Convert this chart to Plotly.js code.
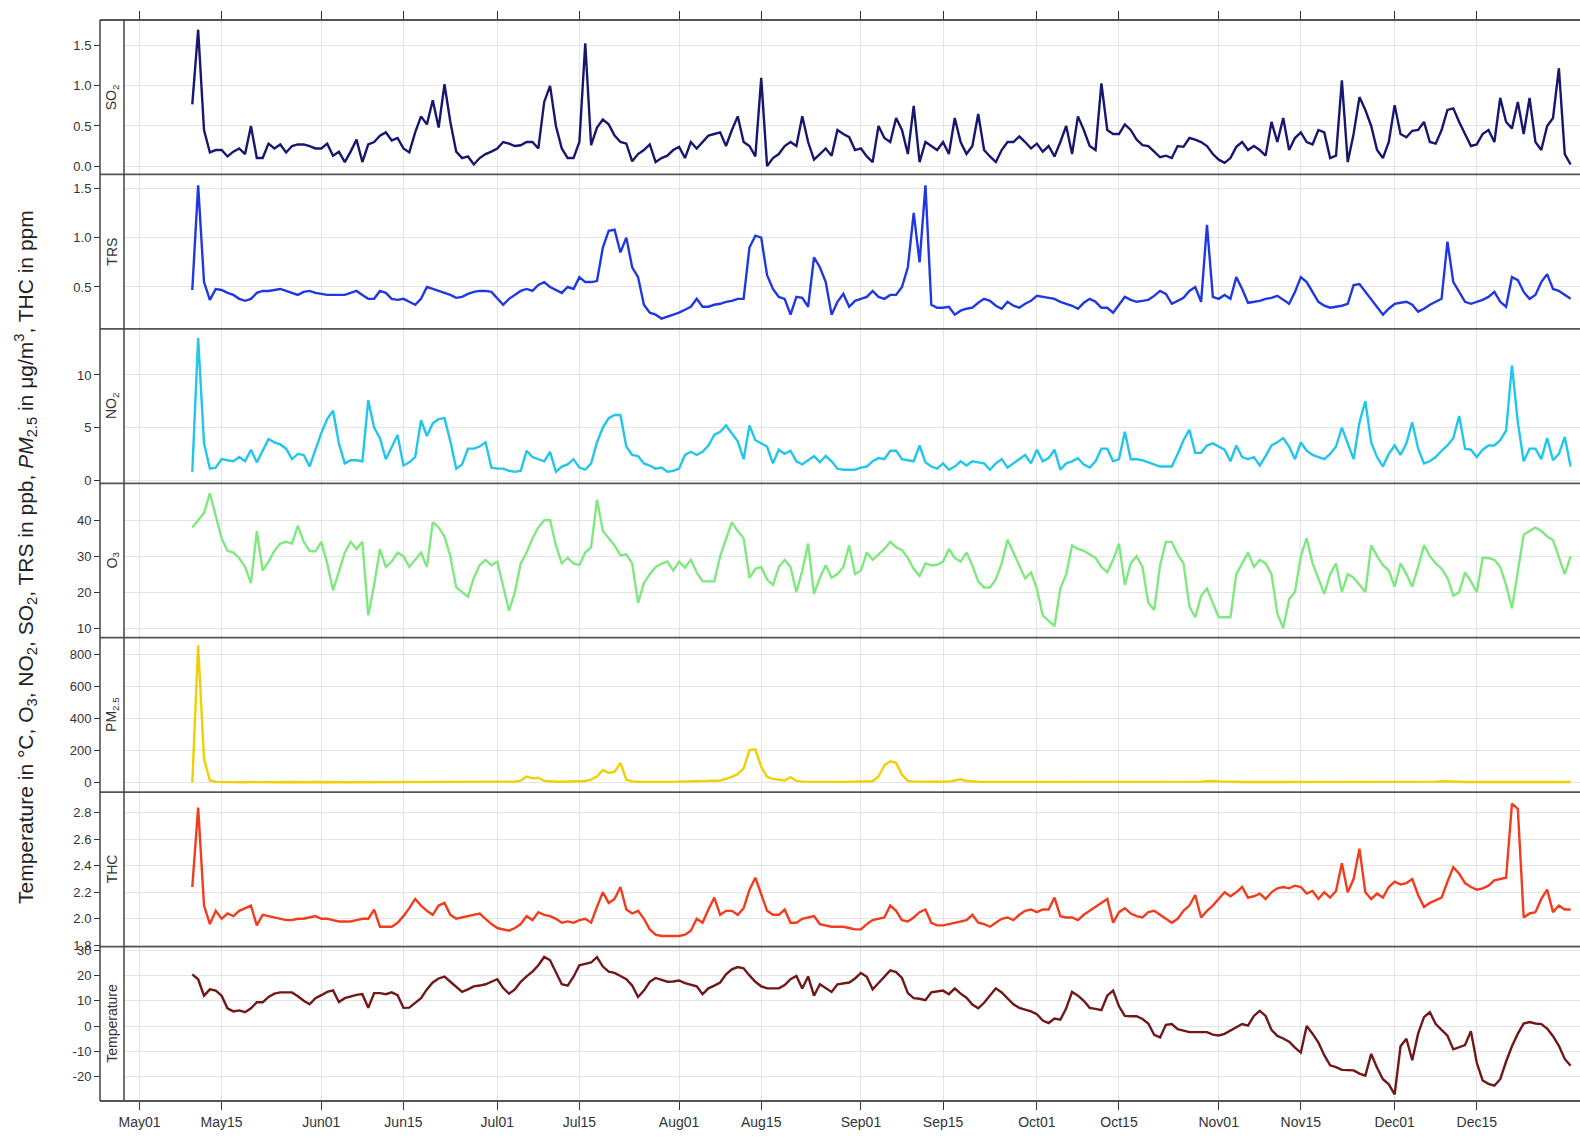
<!DOCTYPE html>
<html><head><meta charset="utf-8">
<script src="https://cdn.plot.ly/plotly-3.0.1.min.js"></script>
<style>html,body{margin:0;padding:0;background:#fff}</style>
</head><body>
<div id="chart" style="width:1580px;height:1138px"></div>
<script>
// daily means, first value is 10 May
const startDate = [2015, 4, 10];

const so2 = [0.77,1.7,0.45,0.17,0.2,0.2,0.12,0.18,0.22,0.15,
0.5,0.1,0.1,0.28,0.22,0.27,0.17,0.25,0.27,0.27,
0.25,0.22,0.22,0.28,0.13,0.18,0.05,0.18,0.33,0.05,
0.27,0.3,0.38,0.42,0.32,0.35,0.22,0.17,0.42,0.62,
0.52,0.82,0.48,1.02,0.55,0.18,0.1,0.12,0.02,0.1,
0.15,0.18,0.22,0.3,0.28,0.25,0.26,0.3,0.3,0.22,
0.8,1.0,0.5,0.22,0.1,0.1,0.3,1.53,0.26,0.48,
0.58,0.52,0.38,0.3,0.28,0.06,0.15,0.2,0.27,0.05,
0.1,0.13,0.2,0.24,0.1,0.3,0.22,0.3,0.38,0.4,
0.42,0.25,0.45,0.62,0.3,0.25,0.12,1.1,0.0,0.1,
0.15,0.25,0.3,0.25,0.62,0.3,0.08,0.15,0.22,0.13,
0.45,0.4,0.36,0.2,0.22,0.12,0.05,0.5,0.35,0.3,
0.6,0.45,0.15,0.75,0.05,0.3,0.25,0.2,0.3,0.15,
0.6,0.3,0.15,0.25,0.65,0.2,0.12,0.05,0.2,0.3,
0.3,0.37,0.3,0.22,0.28,0.18,0.25,0.12,0.3,0.5,
0.15,0.62,0.45,0.25,0.2,1.03,0.45,0.4,0.4,0.52,
0.45,0.33,0.26,0.25,0.18,0.11,0.13,0.1,0.25,0.24,
0.35,0.33,0.3,0.25,0.15,0.08,0.04,0.1,0.24,0.3,
0.2,0.25,0.2,0.13,0.55,0.3,0.6,0.2,0.35,0.42,
0.3,0.27,0.45,0.42,0.1,0.13,1.07,0.05,0.4,0.86,
0.7,0.5,0.2,0.1,0.3,0.76,0.4,0.36,0.44,0.45,
0.55,0.3,0.28,0.45,0.7,0.72,0.55,0.4,0.25,0.27,
0.4,0.45,0.3,0.85,0.55,0.47,0.8,0.4,0.85,0.3,
0.2,0.5,0.6,1.22,0.15,0.02];

const trs = [0.47,1.53,0.55,0.37,0.48,0.47,0.44,0.42,0.38,0.36,
0.38,0.44,0.46,0.46,0.47,0.48,0.46,0.44,0.42,0.45,
0.46,0.44,0.43,0.42,0.42,0.42,0.42,0.44,0.46,0.42,
0.38,0.38,0.46,0.44,0.38,0.37,0.38,0.35,0.32,0.38,
0.5,0.48,0.46,0.44,0.42,0.39,0.4,0.43,0.45,0.46,
0.46,0.45,0.38,0.32,0.38,0.42,0.46,0.48,0.46,0.52,
0.55,0.5,0.47,0.44,0.5,0.48,0.6,0.55,0.55,0.56,
0.9,1.07,1.08,0.85,1.0,0.7,0.6,0.32,0.24,0.22,
0.18,0.2,0.22,0.24,0.27,0.3,0.38,0.3,0.3,0.32,
0.33,0.35,0.36,0.38,0.38,0.9,1.02,1.0,0.62,0.48,
0.4,0.38,0.22,0.4,0.39,0.3,0.8,0.7,0.55,0.22,
0.35,0.43,0.3,0.36,0.38,0.4,0.46,0.4,0.38,0.42,
0.42,0.5,0.7,1.25,0.75,1.53,0.32,0.29,0.29,0.3,
0.22,0.26,0.28,0.29,0.34,0.38,0.36,0.31,0.28,0.35,
0.31,0.29,0.33,0.36,0.41,0.4,0.39,0.38,0.35,0.33,
0.31,0.28,0.34,0.38,0.35,0.29,0.29,0.24,0.32,0.4,
0.37,0.35,0.36,0.37,0.41,0.46,0.43,0.33,0.36,0.39,
0.46,0.5,0.35,1.13,0.4,0.38,0.42,0.38,0.6,0.48,
0.34,0.35,0.36,0.38,0.39,0.41,0.37,0.33,0.45,0.6,
0.55,0.45,0.35,0.31,0.29,0.3,0.31,0.33,0.52,0.53,
0.45,0.38,0.3,0.22,0.28,0.33,0.34,0.35,0.32,0.25,
0.28,0.32,0.35,0.38,0.96,0.55,0.45,0.35,0.33,0.35,
0.37,0.4,0.45,0.35,0.3,0.6,0.57,0.45,0.38,0.42,
0.55,0.63,0.48,0.46,0.42,0.38];

const no2 = [0.8,13.5,3.5,1.1,1.2,2.0,1.9,1.8,2.2,1.8,
2.9,1.7,2.8,3.9,3.6,3.4,3.0,2.0,2.5,2.4,
1.3,3.0,4.5,5.8,6.6,3.5,1.6,1.9,1.9,1.8,
7.6,5.0,4.0,2.0,3.2,4.3,1.4,1.7,2.2,5.7,
4.2,5.4,5.8,5.9,3.7,1.1,1.5,3.0,3.0,3.2,
3.6,1.2,1.1,1.1,0.9,0.8,0.9,2.8,2.2,2.0,
1.8,2.7,0.8,1.3,1.5,2.0,1.2,1.0,1.6,3.6,
5.0,5.9,6.2,6.2,3.2,2.4,2.3,1.6,1.4,1.1,
1.2,0.8,0.9,1.1,2.4,2.7,2.4,2.7,3.3,4.3,
4.6,5.2,4.5,3.7,2.0,5.2,3.8,3.5,3.2,1.6,
2.9,2.5,2.8,1.8,1.5,1.9,2.3,1.7,2.3,1.8,
1.1,1.0,1.0,1.0,1.2,1.3,1.8,2.1,2.0,2.8,
2.8,2.0,1.9,1.8,3.3,1.7,1.3,1.1,1.6,1.0,
1.3,1.8,1.4,1.8,1.7,1.6,1.0,1.6,2.0,1.2,
1.6,2.0,2.4,1.6,2.9,1.8,2.1,2.9,1.0,1.6,
1.8,2.1,1.5,1.2,1.8,3.0,3.0,1.8,2.0,4.6,
2.0,2.0,1.9,1.7,1.5,1.3,1.3,1.3,2.5,3.8,
4.8,2.6,2.6,3.3,3.5,3.2,2.9,1.8,3.3,2.2,
2.0,2.2,1.4,2.3,3.3,3.6,4.0,3.2,2.0,3.6,
2.8,2.4,2.2,2.0,2.5,3.2,5.0,3.5,2.0,5.5,
7.5,3.6,2.2,1.3,2.5,3.3,2.4,3.5,5.5,3.0,
1.6,1.8,2.2,2.8,3.3,4.0,6.1,3.0,2.9,2.2,
2.9,3.3,3.3,3.8,4.7,10.9,5.5,1.8,3.0,3.0,
2.0,4.0,1.9,2.5,4.1,1.3];

const o3 = [38,40,42,47.5,41,35,31.5,31,29.5,27,
22.5,37,26,28.5,31.5,33.5,34,33.5,38.5,34,
31.5,31.3,34,28,20.5,26,31,34,32,34,
13.5,22,32,27,28.5,31,30,27,29,31,
27,39.5,38,35.5,30,21.3,20,18.7,24,27.5,
29,27.5,28.5,22,14.8,20,28,31,35,38,
40,40,33,28,29.5,28,27.5,31,32.5,45.7,
37,35,33,30.2,30.5,28,17,22.5,25,27,
27.9,28.5,26,28.5,26.8,29,25.5,23,23,23,
30,35,39.5,37,35,24,26.5,27,23.5,22,
27,29,27,20,26,33.5,19.5,24,27.5,24,
25,27,33,25,26,31,29,30.5,32,34,
32.5,31.7,29.5,26.5,24.5,28,27.5,27.6,28.5,32,
29.5,28.5,31,27.4,23,21.3,21.3,23.5,28,34.6,
31,27.4,23.8,25.5,21,13.5,12,10.5,21,25,
33,32,31.5,30.5,29.5,27,25.5,29,33.5,22,
28,30,27,17,15,27.5,34,34,30.5,28,
16,13,19,21,17,13,13,13,25,28,
31,27,29,28,25,14,10,18,20,30,
35,28,23.5,19.5,25,28,20,25,24,22,
20,33,30,27.5,26,21.5,28,25,21.5,27,
33,30,28,26.5,24,19,20,25.5,23,20,
29.5,29.5,29,27,22,15.5,26,36,37,38,
37,35.5,34.5,30,25,30];

const pm25 = [2,860,150,15,6,5,5,4,5,4,
5,4,4,5,4,4,5,4,4,4,
4,5,4,4,4,5,4,4,4,4,
5,4,4,4,4,5,4,4,4,4,
5,5,4,4,4,4,5,4,4,5,
4,5,5,6,6,8,14,40,28,32,
12,8,7,7,8,8,10,12,20,40,
80,62,70,125,20,9,7,6,6,6,
6,6,6,7,7,7,8,8,9,10,
15,25,37,55,90,205,210,100,37,25,
20,15,35,12,8,7,6,6,6,6,
6,6,6,7,7,8,10,40,110,135,
125,50,12,8,7,6,6,6,7,8,
15,22,12,8,7,6,6,5,5,5,
5,5,5,6,5,5,5,5,6,5,
5,5,6,5,5,6,5,5,5,6,
5,5,5,6,6,5,5,6,6,7,
7,6,8,10,12,9,7,6,6,5,
5,5,6,5,5,5,6,5,5,5,
5,5,5,5,5,5,5,5,5,5,
5,5,4,4,5,5,5,5,5,5,
5,6,8,10,8,6,5,5,5,5,
5,5,5,5,5,5,5,5,5,5,
5,5,5,5,5,5];

const thc = [2.24,2.84,2.1,1.96,2.06,2.0,2.04,2.02,2.06,2.08,
2.1,1.95,2.03,2.02,2.01,2.0,1.99,1.99,2.0,2.0,
2.01,2.02,2.0,2.0,1.99,1.98,1.98,1.98,1.99,2.0,
2.0,2.07,1.94,1.94,1.94,1.97,2.02,2.08,2.15,2.1,
2.06,2.03,2.1,2.12,2.03,2.0,2.01,2.02,2.03,2.04,
2.0,1.96,1.93,1.92,1.91,1.93,1.96,2.02,1.99,2.05,
2.03,2.02,2.0,1.97,1.98,1.97,1.99,2.0,1.97,2.09,
2.2,2.12,2.15,2.24,2.07,2.04,2.06,2.0,1.92,1.88,
1.87,1.87,1.87,1.87,1.88,1.91,2.0,1.97,2.07,2.16,
2.03,2.06,2.06,2.03,2.08,2.22,2.31,2.18,2.06,2.03,
2.03,2.07,1.97,1.97,2.0,2.01,2.02,1.96,1.95,1.94,
1.94,1.94,1.93,1.92,1.92,1.96,1.99,2.0,2.01,2.1,
2.06,1.99,1.98,2.01,2.05,2.07,1.97,1.95,1.95,1.96,
1.97,1.98,1.99,2.03,1.97,1.96,1.94,1.97,2.0,2.01,
1.99,2.03,2.06,2.07,2.05,2.07,2.07,2.16,2.02,2.01,
2.01,1.99,2.03,2.06,2.09,2.12,2.15,1.97,2.05,2.08,
2.04,2.02,2.01,2.05,2.06,2.03,2.0,1.97,2.0,2.06,
2.1,2.18,2.01,2.06,2.1,2.15,2.2,2.17,2.2,2.24,
2.16,2.17,2.19,2.15,2.2,2.23,2.24,2.23,2.25,2.24,
2.19,2.21,2.15,2.2,2.16,2.21,2.42,2.2,2.3,2.53,
2.2,2.15,2.19,2.16,2.24,2.28,2.26,2.27,2.3,2.18,
2.09,2.12,2.14,2.16,2.28,2.39,2.34,2.27,2.24,2.22,
2.23,2.25,2.29,2.3,2.31,2.87,2.83,2.01,2.04,2.05,
2.15,2.22,2.05,2.1,2.07,2.07];

const temperature = [20.4,18.5,12,14.5,14,12,7,5.8,6.2,5.5,
7,9.4,9.4,11.5,12.8,13.3,13.3,13.3,11.8,10,
8.6,11,12.2,13.5,14.1,9.5,11,11.8,12.3,12.6,
7.2,13,13,12.6,13.3,12.2,7.2,7.3,9,11,
14.5,17.2,18.8,19.5,17.5,15.5,13.5,14.5,15.7,16,
16.5,17.5,18.5,15,12.8,14.5,17.5,19.6,21.5,24,
27.3,26,21,16.5,16,19.5,24,24.6,25.1,27.2,
23.5,21.5,21,19.8,18.5,16,11.5,14,17.5,19,
18.2,17.5,17.6,18,17,16.2,15.7,12.6,14.9,16,
17.2,20.4,22.4,23.3,22.8,20,17.5,15.7,14.9,14.9,
14.9,16.2,18.5,19.8,14.8,19.6,12,16.5,15,13.5,
16.5,17,17.2,18.8,21,19.5,14.5,17,19.6,22,
21.3,19,13,11,10.8,10.2,13.3,13.8,14,12.6,
14.9,12.8,11.2,8.5,7,9.2,12,14.9,13.3,11,
8.6,7.2,6.5,5.8,4.7,2.2,1.2,3,2.5,7,
13.5,12,10,7.2,6.8,6.3,12,14,7.8,4,
3.9,3.9,2.8,1.0,-3.5,-4.5,0.5,0.8,-1.2,-1.9,
-2.4,-2.4,-2.4,-2.4,-3.4,-3.7,-3.1,-1.8,-0.6,0.8,
0.2,4,6,4,-1.5,-3.9,-4.9,-6.2,-8.5,-10.5,
0,-3,-6.5,-11.5,-15.5,-16.2,-17.3,-17.3,-17.5,-18.8,
-19.6,-11,-16.5,-21,-23,-27,-8,-5,-13.5,-3,
3.5,5.5,0.8,-1.5,-3.8,-9.2,-8.5,-7.5,-2,-14.5,
-21.5,-22.8,-23.5,-21,-14,-8,-3,1.0,1.6,1.0,
0.8,-1.0,-4,-7.8,-13,-15.7];

const tickDates = ['2015-05-01','2015-05-15','2015-06-01','2015-06-15','2015-07-01','2015-07-15',
  '2015-08-01','2015-08-15','2015-09-01','2015-09-15','2015-10-01','2015-10-15',
  '2015-11-01','2015-11-15','2015-12-01','2015-12-15'];
const tickLabels = ['May01','May15','Jun01','Jun15','Jul01','Jul15','Aug01','Aug15',
  'Sep01','Sep15','Oct01','Oct15','Nov01','Nov15','Dec01','Dec15'];

const panelNames = ['SO<sub>2</sub>','TRS','NO<sub>2</sub>','O<sub>3</sub>','PM<sub>2.5</sub>','THC','Temperature'];
const panelTicks = [[0,0.5,1,1.5],[0.5,1,1.5],[0,5,10],[10,20,30,40],[0,200,400,600,800],
  [1.8,2.0,2.2,2.4,2.6,2.8],[-20,-10,0,10,20,30]];
const panelTickText = [['0.0','0.5','1.0','1.5'],['0.5','1.0','1.5'],['0','5','10'],['10','20','30','40'],
  ['0','200','400','600','800'],['1.8','2.0','2.2','2.4','2.6','2.8'],['-20','-10','0','10','20','30']];

const yTitle = 'Temperature in °C, O<sub>3</sub>, NO<sub>2</sub>, SO<sub>2</sub>, TRS in ppb, <i>PM</i><sub>2.5</sub> in μg/m<sup>3</sup>, THC in ppm';

// ---------- drawing ----------
const series = [so2, trs, no2, o3, pm25, thc, temperature];
const colors = ['#17176e','#2038e0','#22c6ea','#80e880','#f0d000','#f23c1c','#701818'];
const ranges = [[-0.104,1.821],[0.076,1.64],[-0.29,14.38],[7.3,50.3],[-58,907],[1.79,2.957],[-29.6,31.4]];

function buildDates(n){
  const out=[]; const s=Date.UTC(startDate[0],startDate[1],startDate[2]);
  for(let i=0;i<n;i++){ out.push(new Date(s+i*86400000).toISOString().slice(0,10)); }
  return out;
}
const xRange = ['2015-04-28 08:34','2016-01-01 14:24'];
const N = 7;
const traces = [];
series.forEach((s,i)=>{
  traces.push({x:buildDates(s.length), y:s, type:'scatter', mode:'lines',
    xaxis:'x', yaxis: i===0?'y':'y'+(i+1),
    line:{color:colors[i], width:2.4}, hoverinfo:'skip'});
});
traces.push({x:[], y:[], xaxis:'x2', yaxis:'y', type:'scatter', mode:'lines', hoverinfo:'skip'});

const fontFam = '"Liberation Sans", Arial, Helvetica, sans-serif';
const layout = {
  width:1580, height:1138, margin:{l:100,r:0,t:20,b:37},
  paper_bgcolor:'#fff', plot_bgcolor:'#fff', showlegend:false, hovermode:false,
  font:{family:fontFam, size:13, color:'#333'},
  xaxis:{domain:[24/1480,1], anchor:'y7', type:'date', range:xRange,
    tickmode:'array', tickvals:tickDates, ticktext:tickLabels, ticks:'outside', ticklen:8,
    tickcolor:'#333', tickwidth:1, showgrid:true, gridcolor:'#e4e4e4', gridwidth:1,
    zeroline:false, showline:false, tickfont:{size:14, color:'#333'}},
  xaxis2:{overlaying:'x', anchor:'y', side:'top', type:'date', range:xRange,
    tickmode:'array', tickvals:tickDates, ticks:'outside', ticklen:8, tickcolor:'#333',
    showticklabels:false, showgrid:false, zeroline:false, showline:false},
  shapes:[], annotations:[]
};
for(let i=0;i<N;i++){
  const key = i===0?'yaxis':'yaxis'+(i+1);
  layout[key] = {domain:[1-(i+1)/N, 1-i/N], anchor:'free', position:0, range:ranges[i],
    tickmode:'array', tickvals:panelTicks[i], ticktext:panelTickText[i], ticks:'outside', ticklen:6,
    tickcolor:'#333', showgrid:true, gridcolor:'#e4e4e4', gridwidth:1, zeroline:false, showline:false,
    tickfont:{size:13, color:'#333'}};
  layout.annotations.push({xref:'paper', yref:'paper', x:12/1480, y:1-(i+0.5)/N, text:panelNames[i],
    textangle:-90, showarrow:false, xanchor:'center', yanchor:'middle', font:{size:14, color:'#333'}});
}
for(let k=0;k<=N;k++){
  layout.shapes.push({type:'line', xref:'paper', yref:'paper', x0:0, x1:1, y0:k/N, y1:k/N,
    line:{color:'#555', width:1.8}});
}
[0, 24/1480].forEach(xv=>layout.shapes.push({type:'line', xref:'paper', yref:'paper', x0:xv, x1:xv, y0:0, y1:1,
  line:{color:'#444', width:1.5}}));
layout.annotations.push({xref:'paper', yref:'paper', x:-75/1480, y:(1101-557)/1081, text:yTitle,
  textangle:-90, showarrow:false, xanchor:'center', yanchor:'middle', font:{size:21, color:'#222'}});

Plotly.newPlot('chart', traces, layout, {displayModeBar:false, staticPlot:true});
</script>
</body></html>
